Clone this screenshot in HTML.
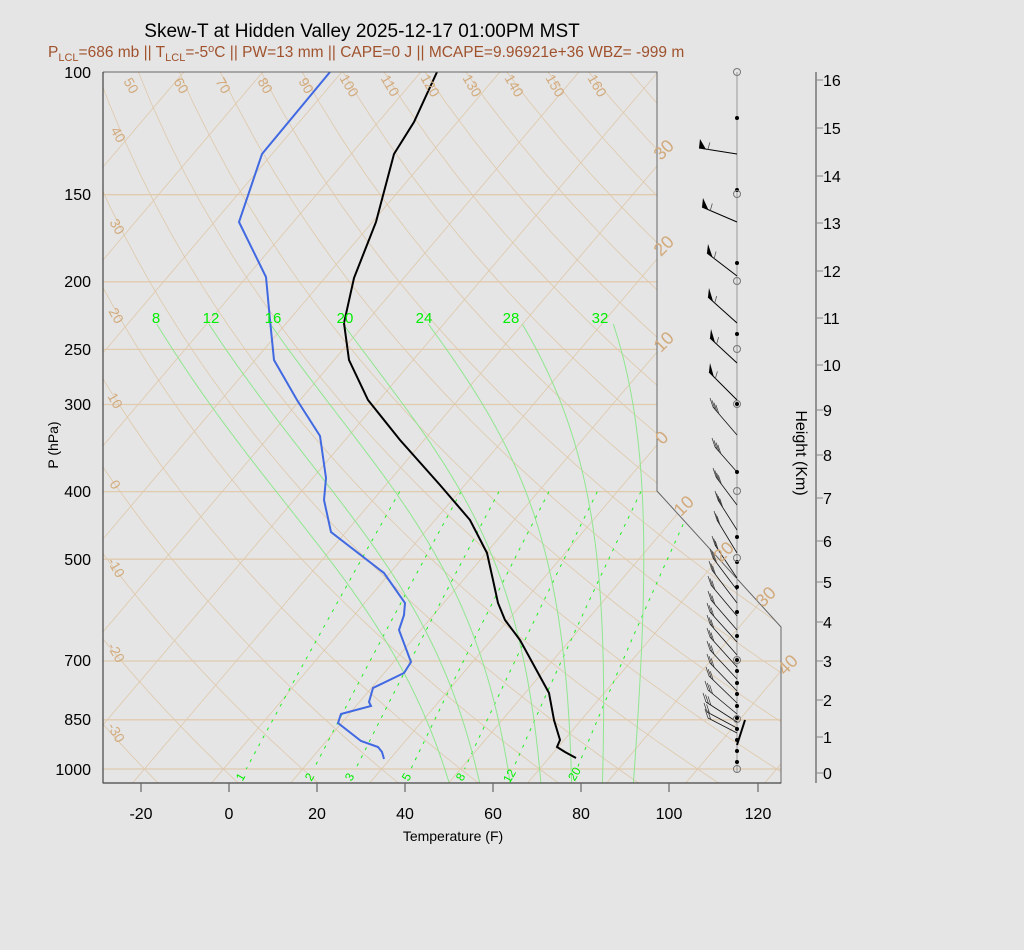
<!DOCTYPE html>
<html><head><meta charset="utf-8"><style>
html,body{margin:0;padding:0;background:#e5e5e5;}
svg{display:block;font-family:"Liberation Sans",sans-serif;}
</style></head><body>
<svg id="s" width="1024" height="950" viewBox="0 0 1024 950" xmlns="http://www.w3.org/2000/svg">
<rect width="1024" height="950" fill="#e5e5e5"/>
<defs><clipPath id="c"><polygon points="103,72 657,72 657,491 781,627 781,783 103,783"/></clipPath></defs>
<g id="grid" clip-path="url(#c)"></g>
<g id="data" clip-path="url(#c)"></g>
<polyline points="103,72 657,72 657,491 781,627 781,783 103,783 103,72" fill="none" stroke="#666" stroke-width="1"/>
<line x1="103" y1="72" x2="103" y2="783" stroke="#444" stroke-width="1.2"/>
<line x1="103" y1="783" x2="781" y2="783" stroke="#444" stroke-width="1.2"/>
<g id="wind"></g>

<text x="362" y="37" font-size="19" text-anchor="middle" fill="#000">Skew-T at Hidden Valley 2025-12-17 01:00PM MST</text>
<text x="48" y="57" font-size="15.5" fill="#a0522d">P<tspan font-size="11" dy="4">LCL</tspan><tspan dy="-4">=686 mb || T</tspan><tspan font-size="11" dy="4">LCL</tspan><tspan dy="-4">=-5</tspan><tspan font-size="11" dy="-5">o</tspan><tspan dy="5">C || PW=13 mm || CAPE=0 J || MCAPE=9.96921e+36 WBZ= -999 m</tspan></text>

<g font-size="16" text-anchor="end" fill="#000">
<text x="91" y="78">100</text><text x="91" y="200">150</text><text x="91" y="287">200</text>
<text x="91" y="355">250</text><text x="91" y="410">300</text><text x="91" y="497">400</text>
<text x="91" y="565">500</text><text x="91" y="666">700</text><text x="91" y="725">850</text>
<text x="91" y="775">1000</text>
</g>
<text transform="translate(58,445) rotate(-90)" font-size="14" text-anchor="middle">P (hPa)</text>

<g stroke="#666" stroke-width="1.2">
<line x1="141" y1="783" x2="141" y2="792"/><line x1="229" y1="783" x2="229" y2="792"/>
<line x1="317" y1="783" x2="317" y2="792"/><line x1="405" y1="783" x2="405" y2="792"/>
<line x1="493" y1="783" x2="493" y2="792"/><line x1="581" y1="783" x2="581" y2="792"/>
<line x1="669" y1="783" x2="669" y2="792"/><line x1="758" y1="783" x2="758" y2="792"/>
</g>
<g font-size="16" text-anchor="middle">
<text x="141" y="819">-20</text><text x="229" y="819">0</text><text x="317" y="819">20</text>
<text x="405" y="819">40</text><text x="493" y="819">60</text><text x="581" y="819">80</text>
<text x="669" y="819">100</text><text x="758" y="819">120</text>
</g>
<text x="453" y="841" font-size="14" text-anchor="middle">Temperature (F)</text>

<line x1="816" y1="72" x2="816" y2="783" stroke="#777" stroke-width="1.5"/>
<g id="hax"></g>
<g font-size="16" fill="#000">
<text x="823" y="779">0</text><text x="823" y="743">1</text><text x="823" y="706">2</text>
<text x="823" y="667">3</text><text x="823" y="628">4</text><text x="823" y="588">5</text>
<text x="823" y="547">6</text><text x="823" y="504">7</text><text x="823" y="461">8</text>
<text x="823" y="416">9</text><text x="823" y="371">10</text><text x="823" y="324">11</text>
<text x="823" y="277">12</text><text x="823" y="229">13</text><text x="823" y="182">14</text>
<text x="823" y="134">15</text><text x="823" y="86">16</text>
</g>
<text transform="translate(796,453) rotate(90)" font-size="16" text-anchor="middle">Height (Km)</text>

<g font-size="14" fill="#d2aa7c" text-anchor="middle">
<text transform="translate(127,88) rotate(60)">50</text>
<text transform="translate(177,88) rotate(60)">60</text>
<text transform="translate(219,88) rotate(60)">70</text>
<text transform="translate(261,88) rotate(60)">80</text>
<text transform="translate(302,88) rotate(60)">90</text>
<text transform="translate(345,88) rotate(60)">100</text>
<text transform="translate(386,88) rotate(60)">110</text>
<text transform="translate(426,88) rotate(60)">120</text>
<text transform="translate(468,88) rotate(60)">130</text>
<text transform="translate(510,88) rotate(60)">140</text>
<text transform="translate(551,88) rotate(60)">150</text>
<text transform="translate(593,88) rotate(60)">160</text>
<text transform="translate(114,137) rotate(60)">40</text>
<text transform="translate(113,229) rotate(60)">30</text>
<text transform="translate(112,318) rotate(60)">20</text>
<text transform="translate(111,403) rotate(60)">10</text>
<text transform="translate(111,487) rotate(60)">0</text>
<text transform="translate(112,570) rotate(60)">-10</text>
<text transform="translate(112,655) rotate(60)">-20</text>
<text transform="translate(112,735) rotate(60)">-30</text>
</g>
<g font-size="18" fill="#d2aa7c" text-anchor="middle">
<text transform="translate(668,154) rotate(-45)">30</text>
<text transform="translate(668,250) rotate(-45)">20</text>
<text transform="translate(668,346) rotate(-45)">10</text>
<text transform="translate(666,442) rotate(-45)">0</text>
<text transform="translate(688,510) rotate(-45)">10</text>
<text transform="translate(728,556) rotate(-45)">20</text>
<text transform="translate(770,601) rotate(-45)">30</text>
<text transform="translate(792,669) rotate(-45)">40</text>
</g>
<g font-size="15" fill="#00ee00" text-anchor="middle">
<text x="156" y="323">8</text><text x="211" y="323">12</text><text x="273" y="323">16</text>
<text x="345" y="323">20</text><text x="424" y="323">24</text><text x="511" y="323">28</text>
<text x="600" y="323">32</text>
</g>
<g font-size="12" fill="#00ee00" text-anchor="middle">
<text transform="translate(244,779) rotate(-60)">1</text>
<text transform="translate(313,779) rotate(-60)">2</text>
<text transform="translate(353,779) rotate(-60)">3</text>
<text transform="translate(410,779) rotate(-60)">5</text>
<text transform="translate(464,779) rotate(-60)">8</text>
<text transform="translate(513,778) rotate(-60)">12</text>
<text transform="translate(578,776) rotate(-60)">20</text>
</g>
</svg>
<script>
(function(){
function Y(p){return 72+302.7*Math.log(p/100);}
function X(TF,y){return 230+4.39*TF+0.85*(782-y);}
function CtoF(c){return c*1.8+32;}
var g="";
[150,200,250,300,400,500,700,850,1000].forEach(function(p){var y=Y(p).toFixed(1);
 g+='<line x1="103" y1="'+y+'" x2="790" y2="'+y+'" stroke="#e1cbaf" stroke-width="1.3"/>';});
for(var t=-110;t<=60;t+=10){var tf=CtoF(t);
 g+='<line x1="'+X(tf,790).toFixed(1)+'" y1="790" x2="'+X(tf,60).toFixed(1)+'" y2="60" stroke="#dfc8aa" stroke-width="0.8"/>';}
for(var th=-40;th<=200;th+=10){var pts=[];
 for(var p=95;p<=1060;p+=15){var T=(th+273.15)*Math.pow(p/1000,0.2857)-273.15;var y=Y(p);pts.push(X(CtoF(T),y).toFixed(1)+","+y.toFixed(1));}
 g+='<polyline points="'+pts.join(" ")+'" fill="none" stroke="#dfc8aa" stroke-width="0.8"/>';}
[1,2,3,5,8,12,20].forEach(function(w){var pts=[];
 for(var p=400;p<=1000;p+=20){var e=w*p/(622+w);var l=Math.log(e/6.112);var T=243.5*l/(17.67-l);var y=Y(p);pts.push(X(CtoF(T),y).toFixed(1)+","+y.toFixed(1));}
 g+='<polyline points="'+pts.join(" ")+'" fill="none" stroke="#22ee22" stroke-width="1" stroke-dasharray="3,6"/>';});
function es(Tc){return 6.112*Math.exp(17.67*Tc/(Tc+243.5));}
function dTdp(T,p){var e=es(T-273.15);var rs=0.622*e/(p-e);var Lv=2.5e6;
 return (287*T+Lv*rs)/(p*(1004+Lv*Lv*rs*0.622/(287*T*T)));}
[8,12,16,20,24,28,32].forEach(function(tw){var T=tw+273.15,p=1000;var up=[];
 while(p>228){var y=Y(p);up.push(X(CtoF(T-273.15),y).toFixed(1)+","+y.toFixed(1));var d=-2;T+=dTdp(T,p)*d;p+=d;}
 up.reverse();T=tw+273.15;p=1000;var dn=[];
 while(p<1060){T+=dTdp(T,p)*2;p+=2;var y2=Y(p);dn.push(X(CtoF(T-273.15),y2).toFixed(1)+","+y2.toFixed(1));}
 var pts=up.concat(dn);
 g+='<polyline points="'+pts.join(" ")+'" fill="none" stroke="#8fe68f" stroke-width="1"/>';});
document.getElementById("grid").innerHTML=g;
var temp="437,72 414,122 394,154 381,203 376,222 354,278 344,323 349,360 368,400 400,440 440,485 470,520 487,553 493,580 498,603 505,620 520,640 549,693 554,720 560,740 557,747 565,752 576,758";
var dew="330,72 262,154 239,222 266,277 270,320 274,360 297,400 320,436 326,478 324,500 331,532 384,573 405,603 404,615 399,630 411,662 404,673 373,688 369,702 371,706 341,714 338,723 361,741 378,747 382,752 384,759";
document.getElementById("data").innerHTML='<polyline points="'+dew+'" fill="none" stroke="#4169e1" stroke-width="2"/><polyline points="'+temp+'" fill="none" stroke="#000" stroke-width="2"/>';
var hy=[773,737,700,661,622,582,541,498,455,410,365,318,271,223,176,128,80];var h="";
hy.forEach(function(y){h+='<line x1="816" y1="'+y+'" x2="823" y2="'+y+'" stroke="#888" stroke-width="1"/>';});
document.getElementById("hax").innerHTML=h;
var w='<line x1="737" y1="72" x2="737" y2="773" stroke="#999" stroke-width="1"/>';
var flags=[[154,699,148],[222,702,207],[276,707,253],[323,708,297],[363,710,338],[400,709,372]];
flags.forEach(function(f){var bx=737,by=f[0],tx=f[1],ty=f[2];
 w+='<line x1="'+bx+'" y1="'+by+'" x2="'+tx+'" y2="'+ty+'" stroke="#000" stroke-width="1"/>';
 var dx=bx-tx,dy=by-ty,L=Math.sqrt(dx*dx+dy*dy),ux=dx/L,uy=dy/L;
 var p2x=tx+ux*7,p2y=ty+uy*7;
 w+='<polygon points="'+tx+','+ty+' '+(tx+1).toFixed(1)+','+(ty-9).toFixed(1)+' '+p2x.toFixed(1)+','+p2y.toFixed(1)+'" fill="#000"/>';
 w+='<line x1="'+(p2x+ux*2).toFixed(1)+'" y1="'+(p2y+uy*2).toFixed(1)+'" x2="'+(p2x+ux*2+2).toFixed(1)+'" y2="'+(p2y+uy*2-7).toFixed(1)+'" stroke="#555" stroke-width="0.8"/>';});
var lows=[[435,713,407,4],[472,715,447,4],[505,716,477,4],[530,718,500,4],[553,717,520,3],[578,715,545,3],[590,713,558,3],[603,712,570,3],[616,711,585,3],[630,711,600,3],[642,710,612,3],[655,710,624,3],[667,710,637,3],[679,710,650,3],[691,710,663,3],[703,709,676,3],[714,708,690,3],[722,706,702,3],[728,707,712,2],[733,708,718,2]];
lows.forEach(function(f){var bx=737,by=f[0],tx=f[1],ty=f[2];
 w+='<line x1="'+bx+'" y1="'+by+'" x2="'+tx+'" y2="'+ty+'" stroke="#111" stroke-width="0.8"/>';
 var dx=bx-tx,dy=by-ty,L=Math.sqrt(dx*dx+dy*dy),ux=dx/L,uy=dy/L;
 for(var i=0;i<f[3];i++){var sx=tx+ux*3*i,sy=ty+uy*3*i;
  w+='<line x1="'+sx.toFixed(1)+'" y1="'+sy.toFixed(1)+'" x2="'+(sx-3).toFixed(1)+'" y2="'+(sy-9).toFixed(1)+'" stroke="#333" stroke-width="0.7"/>';}});
w+='<line x1="737" y1="745" x2="745" y2="720" stroke="#000" stroke-width="2"/>';
[118,190,263,334,404,472,537,562,587,612,636,660,671,683,694,706,718,729,740,751,762].forEach(function(y){w+='<circle cx="737" cy="'+y+'" r="2" fill="#000"/>';});
[72,194,281,349,404,491,558,660,719,769].forEach(function(y){w+='<circle cx="737" cy="'+y+'" r="3.5" fill="none" stroke="#777" stroke-width="1"/>';});
document.getElementById("wind").innerHTML=w;
})();
</script>
</body></html>
